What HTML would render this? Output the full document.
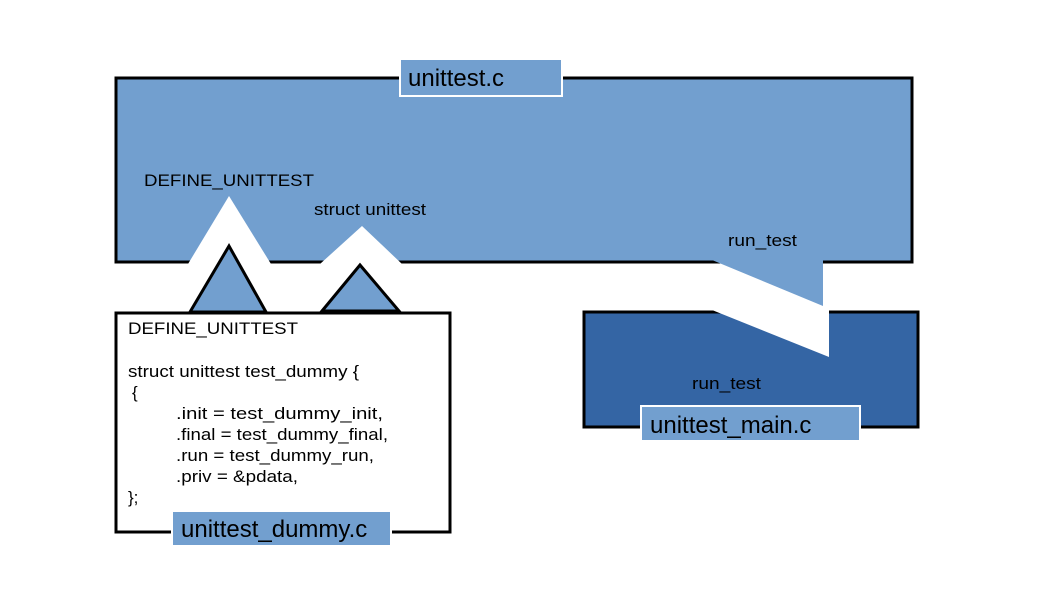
<!DOCTYPE html>
<html><head><meta charset="utf-8"><style>
html,body{margin:0;padding:0;background:#fff;}
svg{display:block;}
text{font-family:"Liberation Sans",sans-serif;fill:#000;}
</style></head><body>
<svg width="1058" height="595" viewBox="0 0 1058 595" xmlns="http://www.w3.org/2000/svg">
<rect width="1058" height="595" fill="#fff"/>
<rect x="116" y="78" width="796" height="184" fill="#729fcf" stroke="#000" stroke-width="3"/>
<polygon points="188,264 229,196 271,264" fill="#fff"/>
<polygon points="320,264 362,226 402,264" fill="#fff"/>
<polygon points="712,260 823,260 823,306" fill="#729fcf"/>
<polygon points="190,312 229,246 266,312" fill="#729fcf" stroke="#000" stroke-width="3"/>
<polygon points="322,311 360,265 399,311" fill="#729fcf" stroke="#000" stroke-width="3"/>
<rect x="116" y="313" width="334" height="219" fill="#fff" stroke="#000" stroke-width="3"/>
<rect x="584" y="312" width="334" height="115" fill="#3465a4" stroke="#000" stroke-width="3"/>
<polygon points="712,310 829,310 829,357" fill="#fff"/>
<rect x="400" y="59" width="162" height="37" fill="#729fcf" stroke="#fff" stroke-width="2"/>
<text x="408" y="86" font-size="24">unittest.c</text>
<rect x="641" y="406" width="219" height="35" fill="#729fcf" stroke="#fff" stroke-width="2"/>
<text x="650" y="433" font-size="24">unittest_main.c</text>
<rect x="172" y="511" width="219" height="35" fill="#729fcf" stroke="#fff" stroke-width="2"/>
<text x="181" y="537" font-size="24">unittest_dummy.c</text>
<g font-size="17" lengthAdjust="spacingAndGlyphs">
<text x="144" y="186" textLength="170" lengthAdjust="spacingAndGlyphs">DEFINE_UNITTEST</text>
<text x="314" y="215" textLength="112" lengthAdjust="spacingAndGlyphs">struct unittest</text>
<text x="728" y="246" textLength="69" lengthAdjust="spacingAndGlyphs">run_test</text>
<text x="692" y="389" textLength="69" lengthAdjust="spacingAndGlyphs">run_test</text>
<text x="128" y="334" textLength="170" lengthAdjust="spacingAndGlyphs">DEFINE_UNITTEST</text>
<text x="128" y="377" textLength="231" lengthAdjust="spacingAndGlyphs">struct unittest test_dummy {</text>
<text x="132" y="398">{</text>
<text x="176" y="419" textLength="207" lengthAdjust="spacingAndGlyphs">.init = test_dummy_init,</text>
<text x="176" y="440" textLength="212" lengthAdjust="spacingAndGlyphs">.final = test_dummy_final,</text>
<text x="176" y="461" textLength="198" lengthAdjust="spacingAndGlyphs">.run = test_dummy_run,</text>
<text x="176" y="482" textLength="122" lengthAdjust="spacingAndGlyphs">.priv = &amp;pdata,</text>
<text x="128" y="503">};</text>
</g>
</svg>
</body></html>
